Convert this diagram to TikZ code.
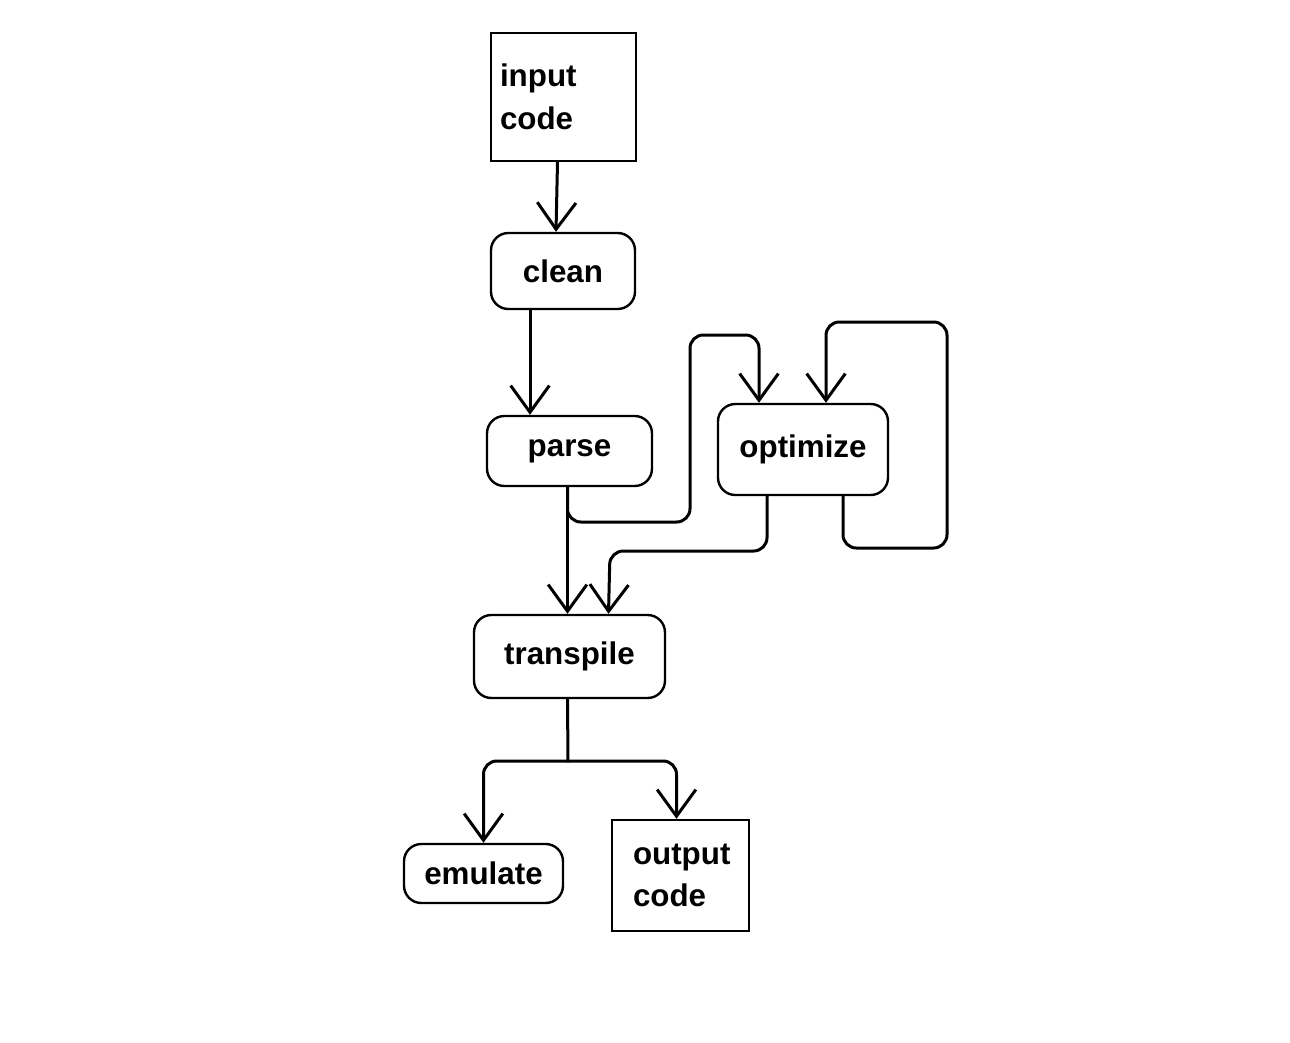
\documentclass[tikz,border=0pt]{standalone}
\usepackage{fontspec}
\setmainfont{Liberation Sans}
\usetikzlibrary{arrows.meta,calc}

\tikzset{
  stage/.style={draw,line width=1.8pt,rounded corners=13pt,inner sep=0pt,align=center,
    font=\bfseries\fontsize{23.5}{32}\selectfont},
  datum/.style={draw,line width=1.8pt,inner ysep=0pt,align=left,
    font=\bfseries\fontsize{23.5}{32}\selectfont},
  flow/.style={line width=2.25pt,line cap=round,line join=round,rounded corners=10pt,
    -{Straight Barb[length=20pt,width=29pt]}},
}

\begin{document}
\begin{tikzpicture}[x=0.75pt,y=0.75pt,yscale=-1,xscale=1]
				\useasboundingbox (0,0) rectangle (1290,1043);

				%Shape: Rectangle [id:input]
				\node (input) [datum,inner xsep=6.75pt,text width=95.25pt,minimum height=96pt] at (563.5,97) {input\\code};
				%Shape: Rounded Rect [id:clean]
				\node (clean) [stage,minimum width=108pt,minimum height=57pt] at (563,271) {clean};
				%Shape: Rounded Rect [id:parse]
				\node (parse) [stage,minimum width=123.75pt,minimum height=52.5pt] at (569.5,451) {parse};
				%Shape: Rounded Rect [id:optimize]
				\node (optimize) [stage,minimum width=127.5pt,minimum height=68.25pt] at (803,449.5) {optimize};
				%Shape: Rounded Rect [id:transpile]
				\node (transpile) [stage,minimum width=143.25pt,minimum height=62.25pt] at (569.5,656.5) {transpile};
				%Shape: Rounded Rect [id:emulate]
				\node (emulate) [stage,minimum width=119.25pt,minimum height=44.25pt] at (483.5,873.5) {emulate};
				%Shape: Rectangle [id:output]
				\node (output) [datum,inner xsep=15.75pt,text width=71.25pt,minimum height=83.25pt] at (680.5,875.5) {output\\code};

				%Straight Lines [id:input-clean]
				\draw [flow] ($(input.south)+(-6,0)$) -- ($(clean.north)+(-7,0)$);
				%Straight Lines [id:clean-parse]
				\draw [flow] ($(clean.south)+(-33,0)$) coordinate (c1) -- (c1 |- parse.north);
				%Straight Lines [id:parse-transpile]
				\draw [flow] ($(parse.south)+(-2,0)$) -- ($(transpile.north)+(-2,0)$);
				%Curve Lines [id:parse-optimize]
				\coordinate (up) at (690,335);
				\draw [flow] ($(parse.south)+(-2,0)$) |- (690,522) -- (up) -| ($(optimize.north)+(-44,0)$);
				%Curve Lines [id:optimize-loop]
				\coordinate (loop) at (947,548);
				\draw [flow] ($(optimize.south)+(40,0)$) |- (loop) |- (826,322) -- ($(optimize.north)+(23,0)$);
				%Curve Lines [id:optimize-transpile]
				\draw [flow] ($(optimize.south)+(-36,0)$) |- (610,551) -- ($(transpile.north)+(39,0)$);
				%Curve Lines [id:transpile-split]
				\coordinate (split) at (568,761);
				\draw [line width=2.25pt,line cap=round] ($(transpile.south)+(-2,0)$) -- (split);
				\draw [flow] (split) -| (emulate.north);
				\draw [flow] (split) -| ($(output.north)+(-4,0)$);

		\end{tikzpicture}
\end{document}
